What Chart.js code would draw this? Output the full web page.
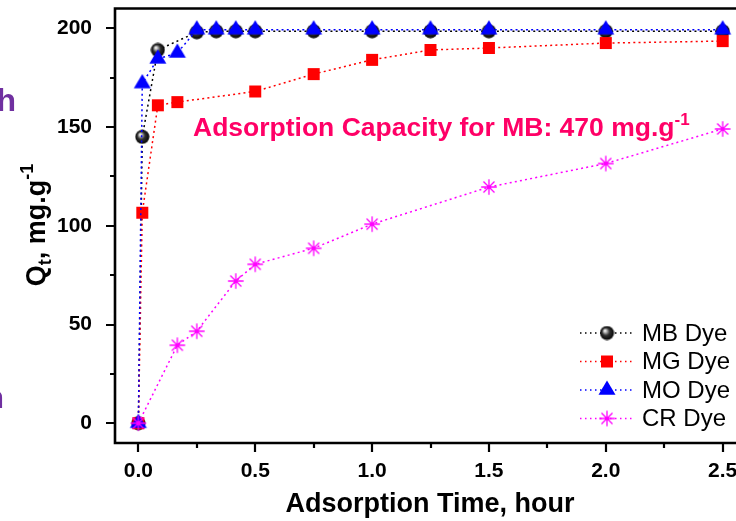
<!DOCTYPE html>
<html>
<head>
<meta charset="utf-8">
<script src="https://cdn.jsdelivr.net/npm/chart.js@4/dist/chart.umd.min.js"></script>
<style>
  html, body { margin: 0; padding: 0; background: #fff; overflow: hidden; width: 736px; height: 521px; }
  #wrap { position: absolute; left: 0; top: 0; width: 760px; height: 521px; }
</style>
</head>
<body>
<div id="wrap"><canvas id="c" width="760" height="521"></canvas></div>
<script>
// ---- data ----
const mbTime = [0, 0.0167, 0.0833, 0.25, 0.333, 0.4167, 0.5, 0.75, 1.0, 1.25, 1.5, 2.0, 2.5];
const mbQ    = [0, 145, 189, 198, 198.5, 198.5, 198.5, 198.5, 198.5, 198.5, 198.5, 198.5, 198.5];
const mgTime = [0, 0.0167, 0.0833, 0.1667, 0.5, 0.75, 1.0, 1.25, 1.5, 2.0, 2.5];
const mgQ    = [0, 106.6, 161, 162.6, 168, 176.8, 184, 189, 190, 192.5, 193.5];
const moTime = [0, 0.0167, 0.0833, 0.1667, 0.25, 0.333, 0.4167, 0.5, 0.75, 1.0, 1.25, 1.5, 2.0, 2.5];
const moQ    = [0, 172, 184.5, 187.5, 199.3, 199.3, 199.3, 199.3, 199.3, 199.3, 199.3, 199.3, 199.3, 199.3];
const crTime = [0, 0.1667, 0.25, 0.4167, 0.5, 0.75, 1.0, 1.5, 2.0, 2.5];
const crQ    = [0, 39.5, 46.6, 72, 80.5, 88.6, 100.8, 119.6, 131.5, 149];
const seriesNames = ['MB Dye', 'MG Dye', 'MO Dye', 'CR Dye'];
const xTicks = [0, 0.5, 1.0, 1.5, 2.0, 2.5];
const xMinorTicks = [0.25, 0.75, 1.25, 1.75, 2.25];
const yTicks = [0, 50, 100, 150, 200];
const yMinorTicks = [25, 75, 125, 175];
const annotationText = 'Adsorption Capacity for MB: 470 mg.g';

const FAM = '"Liberation Sans", Arial, Helvetica, sans-serif';

function pts(xs, ys) { return xs.map((x, i) => ({ x: x, y: ys[i] })); }

// ---- marker images ----
function mk(w, h, fn) { const c = document.createElement('canvas'); c.width = w; c.height = h; fn(c.getContext('2d')); return c; }
const sphere = mk(15, 15, g => {
  const gr = g.createRadialGradient(5.3, 5, 0.3, 7.5, 7.5, 7.3);
  gr.addColorStop(0, '#ffffff'); gr.addColorStop(0.18, '#bdbdbd'); gr.addColorStop(0.5, '#303030'); gr.addColorStop(1, '#000000');
  g.fillStyle = gr; g.beginPath(); g.arc(7.5, 7.5, 7, 0, Math.PI * 2); g.fill();
});
const square = mk(14, 14, g => { g.fillStyle = '#ff0000'; g.fillRect(1, 1, 12, 12); });
const triangle = mk(20, 20, g => {
  g.fillStyle = '#0000ff'; g.beginPath();
  g.moveTo(10, 10 - 9.6); g.lineTo(10 + 8.5, 10 + 4.8); g.lineTo(10 - 8.5, 10 + 4.8); g.closePath(); g.fill();
});
const star = mk(18, 18, g => {
  g.strokeStyle = '#ff00ff'; g.lineWidth = 1.3; g.beginPath();
  const r = 7.8, c = 9, d = r * Math.SQRT1_2;
  g.moveTo(c, c - r); g.lineTo(c, c + r);
  g.moveTo(c - r, c); g.lineTo(c + r, c);
  g.moveTo(c - d, c - d); g.lineTo(c + d, c + d);
  g.moveTo(c - d, c + d); g.lineTo(c + d, c - d);
  g.stroke();
  g.fillStyle = '#ff00ff'; g.beginPath(); g.arc(c, c, 1.6, 0, Math.PI * 2); g.fill();
});

const colors = ['#000000', '#ff0000', '#0000ff', '#ff00ff'];
const markers = [sphere, square, triangle, star];
const dash = [2, 3.2];

function ds(i, xs, ys, order) {
  return {
    label: seriesNames[i], data: pts(xs, ys), order: order,
    borderColor: colors[i], borderWidth: 1.5, borderDash: dash, tension: 0,
    pointStyle: markers[i], pointRadius: 7, pointHoverRadius: 7, showLine: true, fill: false
  };
}

function drawRich(ctx, parts, x, y, align) {
  let total = 0;
  parts.forEach(p => { ctx.font = 'bold ' + p.size + 'px ' + FAM; p.w = ctx.measureText(p.t).width; total += p.w; });
  let cx = align === 'center' ? x - total / 2 : x;
  ctx.textAlign = 'left'; ctx.textBaseline = 'alphabetic';
  parts.forEach(p => { ctx.font = 'bold ' + p.size + 'px ' + FAM; ctx.fillText(p.t, cx, y + (p.dy || 0)); cx += p.w; });
}

const decor = {
  id: 'decor',
  afterDraw(chart) {
    const ctx = chart.ctx, a = chart.chartArea, xs = chart.scales.x, ys = chart.scales.y;
    ctx.save();
    // frame
    ctx.strokeStyle = '#000'; ctx.lineWidth = 2.6;
    ctx.beginPath();
    ctx.moveTo(a.left, a.bottom); ctx.lineTo(a.left, a.top); ctx.lineTo(a.right, a.top);
    ctx.moveTo(a.left - 1.3, a.bottom); ctx.lineTo(a.right, a.bottom);
    ctx.moveTo(a.right, a.top); ctx.lineTo(a.right, a.bottom);
    ctx.stroke();
    // ticks
    ctx.lineWidth = 2.2; ctx.beginPath();
    yTicks.forEach(v => { const p = Math.round(ys.getPixelForValue(v)); ctx.moveTo(a.left, p); ctx.lineTo(a.left - 9, p); });
    yMinorTicks.forEach(v => { const p = Math.round(ys.getPixelForValue(v)); ctx.moveTo(a.left, p); ctx.lineTo(a.left - 5, p); });
    xTicks.forEach(v => { const p = Math.round(xs.getPixelForValue(v)); ctx.moveTo(p, a.bottom); ctx.lineTo(p, a.bottom + 9); });
    xMinorTicks.forEach(v => { const p = Math.round(xs.getPixelForValue(v)); ctx.moveTo(p, a.bottom); ctx.lineTo(p, a.bottom + 5); });
    ctx.stroke();
    // axis titles
    ctx.fillStyle = '#000';
    drawRich(ctx, [{ t: 'Adsorption Time, hour', size: 27 }], 430, 512, 'center');
    ctx.save(); ctx.translate(45, 225); ctx.rotate(-Math.PI / 2);
    drawRich(ctx, [{ t: 'Q', size: 27 }, { t: 't', size: 18, dy: 6 }, { t: ', mg.g', size: 27 }, { t: '-1', size: 18, dy: -12 }], 0, 0, 'center');
    ctx.restore();
    // annotation
    ctx.fillStyle = '#ff0066';
    drawRich(ctx, [{ t: annotationText, size: 26.5 }, { t: '-1', size: 17, dy: -11 }], 193, 136, 'left');
    // legend
    const rows = [333, 361.5, 390, 418.5];
    chart.data.datasets.forEach((d, i) => {
      const y = rows[i];
      ctx.strokeStyle = colors[i]; ctx.lineWidth = 1.5; ctx.setLineDash([1.5, 3.5]);
      ctx.beginPath(); ctx.moveTo(580, y); ctx.lineTo(634, y); ctx.stroke();
      ctx.setLineDash([]);
      const m = markers[i];
      ctx.drawImage(m, 607 - m.width / 2, y - m.height / 2);
      ctx.fillStyle = '#000'; ctx.font = '24px ' + FAM; ctx.textAlign = 'left'; ctx.textBaseline = 'middle';
      ctx.fillText(d.label, 642, y + 1);
    });
    // fragments of neighbouring panel text
    ctx.fillStyle = '#7030a0'; ctx.font = 'bold 32px ' + FAM; ctx.textAlign = 'right'; ctx.textBaseline = 'alphabetic';
    ctx.fillText('h', 16, 111);
    ctx.fillText('n', 4, 408);
    ctx.restore();
  }
};

new Chart(document.getElementById('c'), {
  type: 'line',
  data: {
    datasets: [ds(0, mbTime, mbQ, 3), ds(1, mgTime, mgQ, 2), ds(2, moTime, moQ, 1), ds(3, crTime, crQ, 0)]
  },
  options: {
    responsive: false, animation: false, events: [],
    layout: { padding: { top: 7, right: 14, left: 0, bottom: 0 } },
    plugins: { legend: { display: false }, tooltip: { enabled: false }, title: { display: false } },
    scales: {
      x: {
        type: 'linear', min: -0.1, max: 2.6,
        afterBuildTicks: s => { s.ticks = xTicks.map(v => ({ value: v })); },
        afterFit: s => { s.height = 78; s.paddingLeft = 0; s.paddingRight = 0; s.paddingTop = 0; s.paddingBottom = 0; },
        grid: { display: false }, border: { display: false },
        ticks: { color: '#000', font: { family: FAM, size: 21, weight: 'bold' }, padding: 8, maxRotation: 0, autoSkip: false,
          callback: v => Number(v).toFixed(1) }
      },
      y: {
        type: 'linear', min: -10, max: 210,
        afterBuildTicks: s => { s.ticks = yTicks.map(v => ({ value: v })); },
        afterFit: s => { s.width = 115; s.paddingTop = 0; s.paddingBottom = 0; s.paddingLeft = 0; s.paddingRight = 0; },
        grid: { display: false }, border: { display: false },
        ticks: { color: '#000', font: { family: FAM, size: 21, weight: 'bold' }, padding: 15,
          callback: v => String(v) }
      }
    }
  },
  plugins: [decor]
});
</script>
</body>
</html>
